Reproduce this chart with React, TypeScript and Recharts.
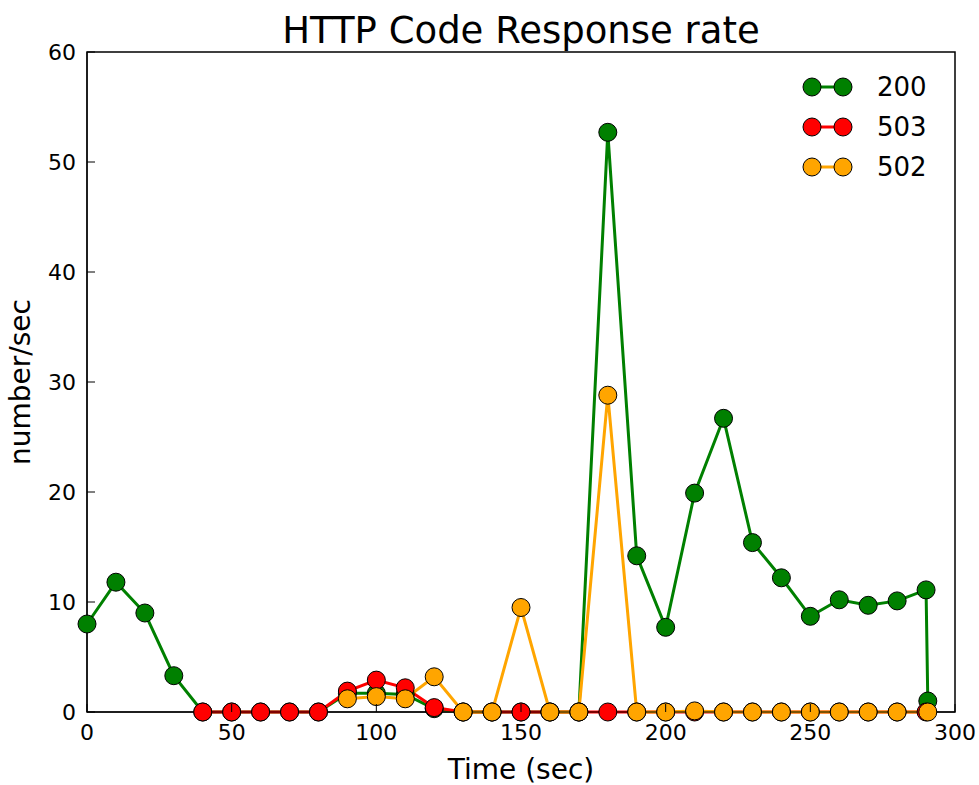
import { LineChart, Line, XAxis, YAxis, Label, ReferenceArea } from "recharts";

// time stamps (seconds) and rates per HTTP status code
const okTimes = [0, 10, 20, 30, 40, 50, 60, 70, 80, 90, 100, 110, 120, 130, 140, 150, 160, 170, 180, 190, 200, 210, 220, 230, 240, 250, 260, 270, 280, 290, 290.6];
const okRates = [8, 11.8, 9.0, 3.3, 0, 0, 0, 0, 0, 1.7, 1.7, 1.6, 0.3, 0, 0, 0, 0, 0, 52.7, 14.2, 7.7, 19.9, 26.7, 15.4, 12.2, 8.7, 10.2, 9.7, 10.1, 11.1, 1.0];

const unavailTimes = [40, 50, 60, 70, 80, 90, 100, 110, 120, 130, 140, 150, 160, 170, 180, 190, 200, 210, 220, 230, 240, 250, 260, 270, 280, 290];
const unavailRates = [0, 0, 0, 0, 0, 1.9, 2.9, 2.2, 0.4, 0, 0, 0, 0, 0, 0, 0, 0, 0, 0, 0, 0, 0, 0, 0, 0, 0];

const badGwTimes = [90, 100, 110, 120, 130, 140, 150, 160, 170, 180, 190, 200, 210, 220, 230, 240, 250, 260, 270, 280, 290.6];
const badGwRates = [1.2, 1.4, 1.2, 3.2, 0, 0, 9.5, 0, 0, 28.8, 0, 0, 0.1, 0, 0, 0, 0, 0, 0, 0, 0];

const xTicks = [0, 50, 100, 150, 200, 250, 300];
const yTicks = [0, 10, 20, 30, 40, 50, 60];

const series = [
  { name: "200", color: "#008000", times: okTimes, rates: okRates },
  { name: "503", color: "#ff0000", times: unavailTimes, rates: unavailRates },
  { name: "502", color: "#ffa500", times: badGwTimes, rates: badGwRates },
];

const FONT = "DejaVu Sans, sans-serif";
const TICK_LEN = 8;

const toRows = (times: number[], rates: number[]) =>
  times.map((t, i) => ({ t, v: rates[i] }));

// inward ticks, matplotlib classic style
const BottomTick = ({ x, y, payload }: any) => (
  <g>
    <line x1={x} y1={y} x2={x} y2={y - TICK_LEN} stroke="#000" strokeWidth={1} />
    <text x={x} y={y + 28} textAnchor="middle" fontSize={22} fill="#000" fontFamily={FONT}>
      {payload.value}
    </text>
  </g>
);
const TopTick = ({ x, y }: any) => (
  <line x1={x} y1={y} x2={x} y2={y + TICK_LEN} stroke="#000" strokeWidth={1} />
);
const LeftTick = ({ x, y, payload }: any) => (
  <g>
    <line x1={x} y1={y} x2={x + TICK_LEN} y2={y} stroke="#000" strokeWidth={1} />
    <text x={x - 11} y={y + 8} textAnchor="end" fontSize={22} fill="#000" fontFamily={FONT}>
      {payload.value}
    </text>
  </g>
);
const RightTick = ({ x, y }: any) => (
  <line x1={x} y1={y} x2={x - TICK_LEN} y2={y} stroke="#000" strokeWidth={1} />
);

function LegendBox() {
  return (
    <div style={{ position: "absolute", top: 67, left: 801, fontFamily: FONT }}>
      {series.map((s) => (
        <div key={s.name} style={{ display: "flex", alignItems: "center", height: 40 }}>
          <svg width={54} height={24}>
            <line x1={11} y1={12} x2={42} y2={12} stroke={s.color} strokeWidth={3} />
            <circle cx={11} cy={12} r={9} fill={s.color} stroke="#000" strokeWidth={1} />
            <circle cx={42} cy={12} r={9} fill={s.color} stroke="#000" strokeWidth={1} />
          </svg>
          <span style={{ fontSize: 26, marginLeft: 22, color: "#000" }}>{s.name}</span>
        </div>
      ))}
    </div>
  );
}

export default function App() {
  return (
    <div style={{ position: "absolute", left: 0, top: 0, width: 979, height: 785, background: "#fff" }}>
      <LineChart
        width={979}
        height={785}
        margin={{ top: 51, right: 23, bottom: 0, left: 0 }}
        style={{ fontFamily: FONT }}
      >
        <XAxis
          xAxisId="bottom"
          dataKey="t"
          type="number"
          domain={[0, 300]}
          ticks={xTicks}
          interval={0}
          height={73}
          allowDuplicatedCategory={false}
          stroke="#000"
          tickLine={false}
          tickSize={0}
          tickMargin={0}
          tick={<BottomTick />}
        >
          <Label value="Time (sec)" position="insideBottom" offset={6} style={{ fill: "#000", fontSize: 28 }} />
        </XAxis>
        <XAxis
          xAxisId="top"
          orientation="top"
          dataKey="t"
          type="number"
          domain={[0, 300]}
          ticks={xTicks}
          interval={0}
          height={1}
          allowDuplicatedCategory={false}
          axisLine={false}
          tickLine={false}
          tickSize={0}
          tickMargin={0}
          tick={<TopTick />}
        />
        <YAxis
          yAxisId="left"
          type="number"
          domain={[0, 60]}
          ticks={yTicks}
          interval={0}
          width={87}
          stroke="#000"
          tickLine={false}
          tickSize={0}
          tickMargin={0}
          tick={<LeftTick />}
        >
          <Label
            value="number/sec"
            angle={-90}
            position="insideLeft"
            offset={20}
            style={{ fill: "#000", fontSize: 28, textAnchor: "middle" }}
          />
        </YAxis>
        <YAxis
          yAxisId="right"
          orientation="right"
          type="number"
          domain={[0, 60]}
          ticks={yTicks}
          interval={0}
          width={1}
          axisLine={false}
          tickLine={false}
          tickSize={0}
          tickMargin={0}
          tick={<RightTick />}
        />
        <ReferenceArea
          xAxisId="bottom"
          yAxisId="left"
          x1={0}
          x2={300}
          y1={0}
          y2={60}
          fill="none"
          stroke="#000"
          strokeWidth={1.5}
          ifOverflow="visible"
        />
        {series.map((s) => (
          <Line
            key={s.name}
            xAxisId="bottom"
            yAxisId="left"
            data={toRows(s.times, s.rates)}
            dataKey="v"
            name={s.name}
            type="linear"
            stroke={s.color}
            strokeWidth={3}
            dot={{ r: 9, fill: s.color, stroke: "#000", strokeWidth: 1 }}
            activeDot={false}
            isAnimationActive={false}
          />
        ))}
      </LineChart>
      <svg style={{ position: "absolute", left: 0, top: 0 }} width={979} height={52}>
        <text x={521} y={43} textAnchor="middle" fontSize={37} fontFamily={FONT} fill="#000">
          HTTP Code Response rate
        </text>
      </svg>
      <LegendBox />
    </div>
  );
}
